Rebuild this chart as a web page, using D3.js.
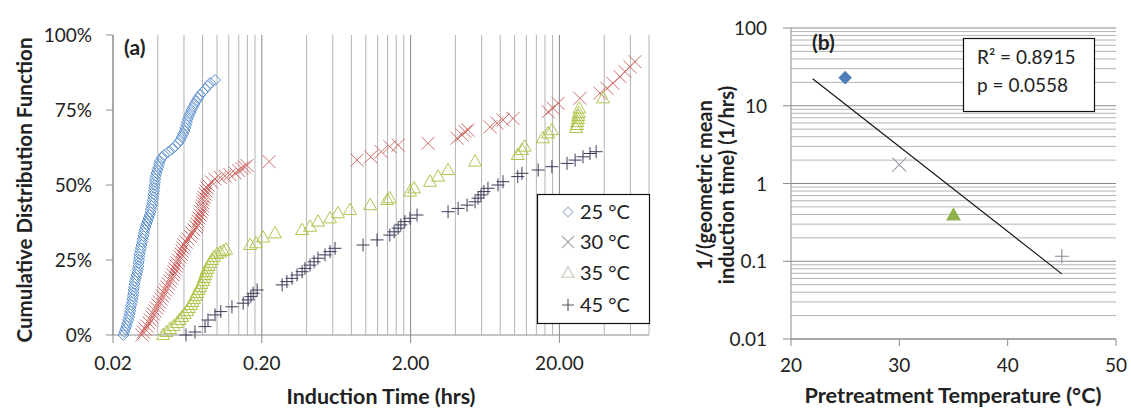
<!DOCTYPE html>
<html><head><meta charset="utf-8">
<script src="https://cdn.jsdelivr.net/npm/d3@7"></script>
<style>
body{margin:0;background:#fff}
svg{display:block}
text{font-family:Lato,"Open Sans",sans-serif;fill:#222}
</style>
</head><body>
<svg id="c" width="1131" height="412"></svg>
<script>
// ---------- DATA ----------
const seriesNames = ["25 °C", "30 °C", "35 °C", "45 °C"];

const t25 = [0.0235,0.0238,0.0242,0.0246,0.0249,0.0253,0.0256,0.0259,0.0261,0.0263,0.0265,0.0268,0.0270,0.0272,0.0274,0.0275,0.0277,0.0279,0.0281,0.0285,0.0288,0.0291,0.0294,0.0296,0.0297,0.0299,0.0300,0.0302,0.0305,0.0308,0.0311,0.0314,0.0317,0.0320,0.0323,0.0326,0.0330,0.0335,0.0341,0.0347,0.0353,0.0357,0.0360,0.0364,0.0367,0.0370,0.0373,0.0375,0.0377,0.0379,0.0381,0.0383,0.0384,0.0388,0.0392,0.0397,0.0403,0.0408,0.0413,0.0425,0.0440,0.0470,0.0500,0.0525,0.0549,0.0565,0.0580,0.0592,0.0605,0.0612,0.0620,0.0628,0.0636,0.0648,0.0660,0.0675,0.0690,0.0707,0.0725,0.0746,0.0769,0.0800,0.0835,0.0868,0.0900,0.0970];
const p25 = [0,0.01,0.02,0.03,0.04,0.05,0.06,0.07,0.08,0.09,0.10,0.11,0.12,0.13,0.14,0.15,0.16,0.17,0.18,0.19,0.20,0.21,0.22,0.23,0.24,0.25,0.26,0.27,0.28,0.29,0.30,0.31,0.32,0.33,0.34,0.35,0.36,0.37,0.38,0.39,0.40,0.41,0.42,0.43,0.44,0.45,0.46,0.47,0.48,0.49,0.50,0.51,0.52,0.53,0.54,0.55,0.56,0.57,0.58,0.59,0.60,0.61,0.62,0.63,0.64,0.65,0.66,0.67,0.68,0.69,0.70,0.71,0.72,0.73,0.74,0.75,0.76,0.77,0.78,0.79,0.80,0.81,0.82,0.83,0.84,0.85];

const t30 = [0.0313,0.0320,0.0328,0.0338,0.0349,0.0357,0.0366,0.0374,0.0383,0.0392,0.0401,0.0410,0.0420,0.0430,0.0440,0.0450,0.0461,0.0472,0.0483,0.0494,0.0506,0.0514,0.0522,0.0530,0.0538,0.0551,0.0564,0.0573,0.0582,0.0591,0.0600,0.0619,0.0638,0.0659,0.0680,0.0701,0.0723,0.0734,0.0745,0.0757,0.0769,0.0781,0.0793,0.0799,0.0805,0.0811,0.0818,0.0831,0.0844,0.0857,0.0870,0.092,0.097,0.105,0.113,0.122,0.132,0.140,0.147,0.153,0.159,0.224,0.873,1.08,1.27,1.45,1.65,2.62,4.10,4.43,4.64,4.86,6.84,7.62,8.36,9.76,16.8,18.1,19.6,27.5,37.5,41.8,45.8,51.1,55.2,59.6,64.4];
const p30 = [0,0.01,0.02,0.03,0.04,0.05,0.06,0.07,0.08,0.09,0.10,0.11,0.12,0.13,0.14,0.15,0.16,0.17,0.18,0.19,0.20,0.21,0.22,0.23,0.24,0.25,0.26,0.27,0.28,0.29,0.30,0.31,0.32,0.33,0.34,0.35,0.36,0.37,0.38,0.39,0.40,0.41,0.42,0.43,0.44,0.45,0.46,0.47,0.48,0.49,0.50,0.51,0.52,0.525,0.53,0.535,0.54,0.548,0.555,0.56,0.565,0.578,0.583,0.594,0.611,0.628,0.633,0.639,0.656,0.667,0.678,0.683,0.694,0.706,0.717,0.722,0.744,0.756,0.772,0.789,0.806,0.822,0.839,0.861,0.878,0.894,0.911];

const t35 = [0.0434,0.0458,0.0483,0.0510,0.0538,0.0560,0.0582,0.0605,0.0629,0.0649,0.0669,0.0685,0.0701,0.0717,0.0734,0.0751,0.0769,0.0787,0.0805,0.0818,0.0831,0.0844,0.0857,0.0877,0.0897,0.0925,0.0955,0.100,0.105,0.110,0.115,0.167,0.183,0.204,0.245,0.373,0.422,0.477,0.575,0.650,0.783,1.07,1.39,1.45,1.98,2.11,2.70,3.06,3.57,5.42,10.5,11.2,11.7,15.5,16.8,17.8,25.9,26.2,26.4,26.6,26.8,27.0,27.2,39.3];
const p35 = [0,0.01,0.02,0.03,0.04,0.05,0.06,0.07,0.08,0.09,0.10,0.11,0.12,0.13,0.14,0.15,0.16,0.17,0.18,0.19,0.20,0.21,0.22,0.23,0.24,0.25,0.26,0.27,0.275,0.28,0.285,0.30,0.306,0.325,0.339,0.35,0.361,0.378,0.389,0.406,0.417,0.433,0.45,0.456,0.478,0.489,0.511,0.528,0.55,0.578,0.60,0.617,0.628,0.656,0.672,0.683,0.69,0.70,0.71,0.72,0.73,0.74,0.755,0.789];

const t45 = [0.0619,0.0711,0.0831,0.087,0.097,0.106,0.126,0.150,0.162,0.169,0.175,0.186,0.274,0.295,0.319,0.345,0.373,0.390,0.422,0.449,0.477,0.532,0.575,0.621,0.958,1.19,1.45,1.55,1.65,1.72,1.83,1.98,2.21,3.57,4.17,4.79,5.42,5.68,5.94,6.22,6.62,7.73,8.36,10.5,11.2,14.4,17.8,22.5,25.5,28.8,32.1,35.3];
const p45 = [0,0.01,0.028,0.05,0.067,0.078,0.094,0.106,0.117,0.128,0.139,0.15,0.167,0.178,0.189,0.20,0.211,0.222,0.233,0.244,0.256,0.267,0.278,0.289,0.30,0.317,0.333,0.344,0.356,0.367,0.378,0.389,0.40,0.411,0.422,0.433,0.444,0.456,0.467,0.478,0.489,0.50,0.511,0.528,0.539,0.55,0.561,0.572,0.583,0.594,0.605,0.611];

const xTicksA = [0.02, 0.2, 2, 20];
const xTickLabelsA = ["0.02", "0.20", "2.00", "20.00"];
const yTicksA = [0, 0.25, 0.5, 0.75, 1];
const yTickLabelsA = ["0%", "25%", "50%", "75%", "100%"];

const tempB = [25, 30, 35, 45];
const rateB = [23, 1.75, 0.39, 0.116];
const trendRangeB = [22, 45];
const statsB = ["R² = 0.8915", "p = 0.0558"];
const xTicksB = [20, 30, 40, 50];
const yTicksB = [0.01, 0.1, 1, 10, 100];
const yTickLabelsB = ["0.01", "0.1", "1", "10", "100"];

// ---------- STYLE ----------
const markersA = ["diamond", "x", "tri", "plus"];
const colorsA = ["#5a8fd0", "#d06c6a", "#b0c54e", "#3c3c5a"];
const colorsB = ["#4f7fb8", "#9a9aa8", "#8fb04a", "#8a8a99"];
const legendColors = ["#a9bcd6", "#a8a8b2", "#c4c8b8", "#555566"];

const svg = d3.select("#c");

function marker(g, type, x, y, color, r, filled, sw) {
  let d;
  if (type === "diamond") d = `M${x},${y-r}L${x+r},${y}L${x},${y+r}L${x-r},${y}Z`;
  else if (type === "x") d = `M${x-r},${y-r}L${x+r},${y+r}M${x+r},${y-r}L${x-r},${y+r}`;
  else if (type === "plus") d = `M${x-r},${y}L${x+r},${y}M${x},${y-r}L${x},${y+r}`;
  else { const w = r*2, h = r*1.75; d = `M${x},${y-h*0.6}L${x+w/2},${y+h*0.4}L${x-w/2},${y+h*0.4}Z`; }
  g.append("path").attr("d", d)
    .attr("fill", filled ? color : "none")
    .attr("stroke", color).attr("stroke-width", sw || 1.1);
}

function label(g, x, y, s, o = {}) {
  const t = g.append("text").attr("x", x).attr("y", y).text(s)
    .attr("font-size", o.size || 19)
    .attr("font-weight", o.bold ? "bold" : "normal")
    .attr("text-anchor", o.anchor || "start");
  if (o.rotate) t.attr("transform", `rotate(-90,${x},${y})`);
  if (o.len) t.attr("textLength", o.len).attr("lengthAdjust", "spacingAndGlyphs");
  return t;
}

// ---------- PANEL A ----------
const xA = d3.scaleLog().domain([0.02, 80]).range([113, 649]);
const yA = d3.scaleLinear().domain([0, 1]).range([335, 35]);
const gA = svg.append("g");

const gridA = [];
xTicksA.concat([200]).forEach(m => { for (let k = 1; k <= 9; k++) { const v = m*k; if (v <= 80.001) gridA.push({v, major: k === 1}); } });
gA.selectAll(".vg").data(gridA).join("line")
  .attr("x1", d => xA(d.v)).attr("x2", d => xA(d.v))
  .attr("y1", yA(1)).attr("y2", yA(0))
  .attr("stroke", d => d.major ? "#8a8a8a" : "#b4b4b4").attr("stroke-width", 1);

gA.append("line").attr("x1", xA(0.02)).attr("x2", xA(80)).attr("y1", yA(0)).attr("y2", yA(0)).attr("stroke", "#8c8c8c");
gA.append("line").attr("x1", xA(0.02)).attr("x2", xA(0.02)).attr("y1", yA(0)).attr("y2", yA(1)).attr("stroke", "#8c8c8c");
xTicksA.forEach((v, i) => {
  gA.append("line").attr("x1", xA(v)).attr("x2", xA(v)).attr("y1", yA(0)).attr("y2", yA(0) + 8).attr("stroke", "#8c8c8c");
  label(gA, xA(v), 370, xTickLabelsA[i], {anchor: "middle"});
});
yTicksA.forEach((v, i) => {
  gA.append("line").attr("x1", xA(0.02) - 7).attr("x2", xA(0.02)).attr("y1", yA(v)).attr("y2", yA(v)).attr("stroke", "#8c8c8c");
  label(gA, 92, yA(v) + 7, yTickLabelsA[i], {anchor: "end"});
});

const seriesA = [[t25, p25], [t30, p30], [t35, p35], [t45, p45]];
const sizesA = [5.5, 6.5, 6.5, 6.5];
seriesA.forEach(([ts, ps], si) => {
  const g = gA.append("g");
  ts.forEach((t, i) => marker(g, markersA[si], xA(t), yA(ps[i]), colorsA[si], sizesA[si], false, 1));
});

label(gA, 124, 55, "(a)", {bold: true, size: 21});
label(gA, 381, 404, "Induction Time (hrs)", {bold: true, size: 20, anchor: "middle", len: 189});
label(gA, 32, 190, "Cumulative Distribution Function", {bold: true, size: 20, anchor: "middle", rotate: true, len: 305});

const lg = gA.append("g");
lg.append("rect").attr("x", 537.5).attr("y", 194.5).attr("width", 112).attr("height", 129)
  .attr("fill", "#fff").attr("stroke", "#111").attr("stroke-width", 1.2);
const legY = [212, 242, 273, 305];
seriesNames.forEach((n, i) => {
  marker(lg, markersA[i], 568, legY[i], legendColors[i], i === 0 ? 5 : 6, false);
  label(lg, 580, legY[i] + 7, n, {size: 20});
});

// ---------- PANEL B ----------
const xB = d3.scaleLinear().domain([20, 50]).range([791, 1116]);
const yB = d3.scaleLog().domain([0.01, 100]).range([339, 28]);
const gB = svg.append("g");

const gridB = [];
yTicksB.forEach(m => { for (let k = 1; k <= 9; k++) { const v = m*k; if (v <= 100.001) gridB.push({v, major: k === 1}); } });
gB.selectAll(".hg").data(gridB).join("line")
  .attr("x1", xB(20)).attr("x2", xB(50))
  .attr("y1", d => yB(d.v)).attr("y2", d => yB(d.v))
  .attr("stroke", d => d.major ? "#8a8a8a" : "#b4b4b4");

gB.append("line").attr("x1", xB(20)).attr("x2", xB(50)).attr("y1", yB(0.01)).attr("y2", yB(0.01)).attr("stroke", "#8c8c8c");
gB.append("line").attr("x1", xB(20)).attr("x2", xB(20)).attr("y1", yB(0.01)).attr("y2", yB(100)).attr("stroke", "#8c8c8c");
xTicksB.forEach(v => {
  gB.append("line").attr("x1", xB(v)).attr("x2", xB(v)).attr("y1", yB(0.01)).attr("y2", yB(0.01) + 7).attr("stroke", "#8c8c8c");
  label(gB, xB(v), 372, String(v), {anchor: "middle"});
});
yTicksB.forEach((v, i) => {
  gB.append("line").attr("x1", xB(20) - 8).attr("x2", xB(20)).attr("y1", yB(v)).attr("y2", yB(v)).attr("stroke", "#8c8c8c");
  label(gB, 767, yB(v) + 7, yTickLabelsB[i], {anchor: "end"});
});

const ly = rateB.map(Math.log10);
const mx = d3.mean(tempB), my = d3.mean(ly);
const slope = d3.sum(tempB.map((x, i) => (x - mx) * (ly[i] - my))) / d3.sum(tempB.map(x => (x - mx) ** 2));
const icpt = my - slope * mx;
gB.append("line")
  .attr("x1", xB(trendRangeB[0])).attr("y1", yB(10 ** (icpt + slope * trendRangeB[0])))
  .attr("x2", xB(trendRangeB[1])).attr("y2", yB(10 ** (icpt + slope * trendRangeB[1])))
  .attr("stroke", "#111").attr("stroke-width", 1.1);

const markersB = ["diamond", "x", "tri", "plus"];
const sizesB = [6, 7, 6.5, 7];
const filledB = [true, false, true, false];
tempB.forEach((t, i) => marker(gB, markersB[i], xB(t), yB(rateB[i]), colorsB[i], sizesB[i], filledB[i]));

gB.append("rect").attr("x", 963.5).attr("y", 38.5).attr("width", 131).attr("height", 73)
  .attr("fill", "#fff").attr("stroke", "#111").attr("stroke-width", 1.2);
label(gB, 977, 64, statsB[0], {size: 19});
label(gB, 977, 92, statsB[1], {size: 19});

label(gB, 812, 50, "(b)", {bold: true, size: 21});
label(gB, 953, 403, "Pretreatment Temperature (°C)", {bold: true, size: 20, anchor: "middle", len: 297});
label(gB, 712, 185, "1/(geometric mean", {bold: true, size: 20, anchor: "middle", rotate: true});
label(gB, 734, 185, "induction time) (1/hrs)", {bold: true, size: 20, anchor: "middle", rotate: true});
</script>
</body></html>
